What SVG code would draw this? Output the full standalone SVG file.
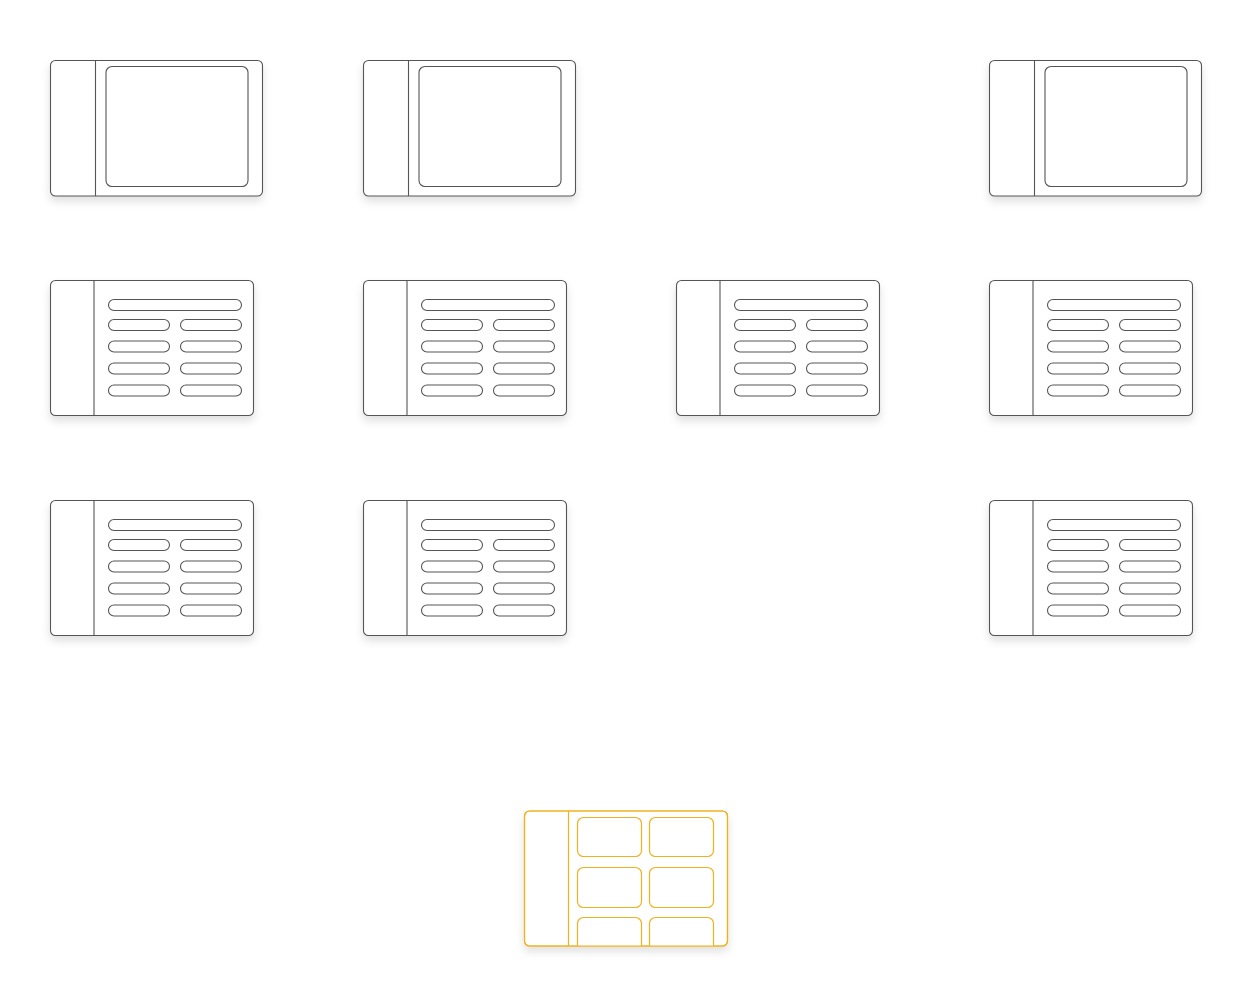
<svg xmlns="http://www.w3.org/2000/svg" xmlns:xlink="http://www.w3.org/1999/xlink" width="1258" height="994" viewBox="0 0 1258 994">
<style>
.frame{fill:#fff;stroke:#555;stroke-width:1.1}
.line{stroke:#555;stroke-width:1.1;fill:none}
.inner{fill:#fff;stroke:#555;stroke-width:1.1}
.pill{fill:#fff;stroke:#555;stroke-width:1.1}
.oframe{fill:#fff;stroke:#efb21f;stroke-width:1.2}
.oline{stroke:#efb21f;stroke-width:1.2;fill:none}
.ocell{fill:#fff;stroke:#efb21f;stroke-width:1.2}
</style>
<defs>
<filter id="sh" x="-20%" y="-20%" width="140%" height="150%">
<feDropShadow dx="0" dy="5" stdDeviation="4" flood-color="#000" flood-opacity="0.12"/>
</filter>
<g id="panel">
<rect class="frame" x="0" y="0" width="212" height="135.5" rx="5" filter="url(#sh)"/>
<line class="line" x1="45" y1="0" x2="45" y2="135.5"/>
<rect class="inner" x="55.5" y="6" width="142" height="120" rx="6"/>
</g>
<g id="list">
<rect class="frame" x="0" y="0" width="203" height="135" rx="5" filter="url(#sh)"/>
<line class="line" x1="43.5" y1="0" x2="43.5" y2="135"/>
<rect class="pill" x="58" y="19" width="133" height="11" rx="5.5"/>
<rect class="pill" x="58" y="39" width="61" height="11" rx="5.5"/>
<rect class="pill" x="130" y="39" width="61" height="11" rx="5.5"/>
<rect class="pill" x="58" y="60.5" width="61" height="11" rx="5.5"/>
<rect class="pill" x="130" y="60.5" width="61" height="11" rx="5.5"/>
<rect class="pill" x="58" y="82.5" width="61" height="11" rx="5.5"/>
<rect class="pill" x="130" y="82.5" width="61" height="11" rx="5.5"/>
<rect class="pill" x="58" y="104.5" width="61" height="11" rx="5.5"/>
<rect class="pill" x="130" y="104.5" width="61" height="11" rx="5.5"/>
</g>
<clipPath id="oclip"><rect x="524.5" y="811" width="203" height="135"/></clipPath>
</defs>
<g id="connectors"/>
<g id="n1" transform="translate(50.5,60.5)"><use xlink:href="#panel"/></g>
<g id="n2" transform="translate(363.5,60.5)"><use xlink:href="#panel"/></g>
<g id="n3" transform="translate(989.5,60.5)"><use xlink:href="#panel"/></g>
<g id="n4" transform="translate(50.5,280.5)"><use xlink:href="#list"/></g>
<g id="n5" transform="translate(363.5,280.5)"><use xlink:href="#list"/></g>
<g id="n6" transform="translate(676.5,280.5)"><use xlink:href="#list"/></g>
<g id="n7" transform="translate(989.5,280.5)"><use xlink:href="#list"/></g>
<g id="n8" transform="translate(50.5,500.5)"><use xlink:href="#list"/></g>
<g id="n9" transform="translate(363.5,500.5)"><use xlink:href="#list"/></g>
<g id="n10" transform="translate(989.5,500.5)"><use xlink:href="#list"/></g>
<g id="n11">
<rect class="oframe" x="524.5" y="811" width="203" height="135" rx="5" filter="url(#sh)"/>
<line class="oline" x1="568.5" y1="811" x2="568.5" y2="946"/>
<g clip-path="url(#oclip)">
<rect class="ocell" x="577.5" y="817.5" width="64" height="39" rx="6"/>
<rect class="ocell" x="649.5" y="817.5" width="64" height="39" rx="6"/>
<rect class="ocell" x="577.5" y="867.5" width="64" height="40" rx="6"/>
<rect class="ocell" x="649.5" y="867.5" width="64" height="40" rx="6"/>
<rect class="ocell" x="577.5" y="917.5" width="64" height="40" rx="6"/>
<rect class="ocell" x="649.5" y="917.5" width="64" height="40" rx="6"/>
</g>
<rect x="524.5" y="811" width="203" height="135" rx="5" fill="none" stroke="#efb21f" stroke-width="1.2"/>
</g>
</svg>
